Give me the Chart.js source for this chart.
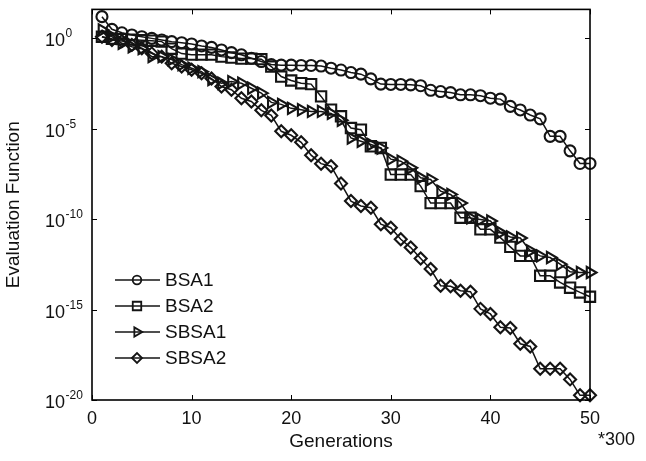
<!DOCTYPE html>
<html><head><meta charset="utf-8">
<script src="https://cdn.jsdelivr.net/npm/chart.js@4/dist/chart.umd.min.js"></script>
<style>html,body{margin:0;padding:0;background:#fff}</style>
</head><body>
<canvas id="c" width="646" height="461"></canvas>
<script>
// ---- data ----
const generations = [1,2,3,4,5,6,7,8,9,10,11,12,13,14,15,16,17,18,19,20,21,22,23,24,25,26,27,28,29,30,31,32,33,34,35,36,37,38,39,40,41,42,43,44,45,46,47,48,49,50];
const xTickValues = [0,10,20,30,40,50];
const yTickExponents = [0,-5,-10,-15,-20];
const seriesNames = ['BSA1','BSA2','SBSA1','SBSA2'];
// log10 of evaluation function
const bsa1Log = [1.20,0.50,0.31,0.19,0.09,0.00,-0.09,-0.18,-0.24,-0.31,-0.42,-0.50,-0.64,-0.79,-0.91,-1.10,-1.28,-1.45,-1.48,-1.48,-1.50,-1.50,-1.53,-1.65,-1.75,-1.89,-1.98,-2.24,-2.53,-2.55,-2.55,-2.57,-2.62,-2.87,-2.94,-3.00,-3.12,-3.12,-3.17,-3.31,-3.36,-3.76,-3.96,-4.24,-4.45,-5.42,-5.42,-6.22,-6.92,-6.92];
const bsa2Log = [0.09,-0.02,-0.04,-0.07,-0.10,-0.13,-0.18,-0.57,-0.84,-0.90,-0.90,-0.90,-1.01,-1.06,-1.12,-1.12,-1.15,-1.56,-2.11,-2.33,-2.48,-2.53,-3.21,-3.94,-4.31,-4.96,-5.05,-5.97,-6.06,-7.53,-7.53,-7.53,-8.17,-9.11,-9.11,-9.11,-9.92,-9.92,-10.56,-10.56,-11.02,-11.53,-12.03,-12.03,-13.13,-13.13,-13.50,-13.79,-14.05,-14.29];
const sbsa1Log = [0.46,0.10,-0.27,-0.46,-0.57,-1.01,-1.01,-1.17,-1.45,-1.65,-1.84,-2.28,-2.48,-2.39,-2.48,-2.76,-3.03,-3.54,-3.65,-3.87,-3.95,-4.04,-4.04,-4.15,-4.53,-5.51,-5.69,-5.87,-6.06,-6.68,-6.79,-7.16,-7.71,-7.80,-8.45,-8.63,-9.11,-9.93,-10.02,-10.10,-10.74,-10.98,-11.04,-11.75,-12.03,-12.12,-12.49,-12.91,-12.95,-12.95];
const sbsa2Log = [0.09,-0.09,-0.14,-0.36,-0.55,-0.83,-1.01,-1.38,-1.56,-1.74,-1.93,-2.22,-2.66,-2.84,-3.31,-3.49,-3.98,-4.26,-5.14,-5.36,-5.75,-6.46,-6.93,-7.07,-8.03,-9.00,-9.27,-9.37,-10.28,-10.47,-11.11,-11.57,-12.17,-12.76,-13.68,-13.71,-13.96,-14.01,-14.96,-15.24,-15.98,-16.02,-16.89,-17.04,-18.27,-18.27,-18.27,-18.86,-19.74,-19.74];

const INK = '#141414';
const FONT = '"Liberation Sans", Arial, Helvetica, sans-serif';

function toPoints(logs){ return logs.map((v,i)=>({x:generations[i], y:Math.pow(10,v)})); }

const styles = [
  {pointStyle:'circle', pointRadius:5.5, rotation:0, legendRadius:4.3},
  {pointStyle:'rect', pointRadius:7.3, rotation:0, legendRadius:6},
  {pointStyle:'triangle', pointRadius:6.5, rotation:90, legendRadius:5.3},
  {pointStyle:'rectRot', pointRadius:6, rotation:0, legendRadius:5}
];
const allLogs = [bsa1Log,bsa2Log,sbsa1Log,sbsa2Log];

const datasets = seriesNames.map((name,k)=>({
  label:name,
  data:toPoints(allLogs[k]),
  borderColor:INK,
  borderWidth:1.5,
  pointStyle:styles[k].pointStyle,
  pointRadius:styles[k].pointRadius,
  pointRotation:styles[k].rotation,
  pointBorderColor:INK,
  pointBackgroundColor:'rgba(0,0,0,0)',
  pointBorderWidth:2.1,
  tension:0,
  clip:false
}));

const framePlugin = {
  id:'frame',
  afterDraw(chart){
    const {ctx, chartArea:a, scales:{x, y}} = chart;
    ctx.save();
    ctx.strokeStyle = '#000';
    ctx.lineWidth = 1.6;
    ctx.strokeRect(a.left, a.top, a.right-a.left, a.bottom-a.top);
    ctx.lineWidth = 1;
    const tl = 5;
    ctx.beginPath();
    xTickValues.forEach(v=>{
      const px = Math.round(x.getPixelForValue(v))+0.5;
      ctx.moveTo(px, a.bottom); ctx.lineTo(px, a.bottom-tl);
      ctx.moveTo(px, a.top); ctx.lineTo(px, a.top+tl);
    });
    yTickExponents.forEach(e=>{
      const py = Math.round(y.getPixelForValue(Math.pow(10,e)))+0.5;
      ctx.moveTo(a.left, py); ctx.lineTo(a.left+tl, py);
      ctx.moveTo(a.right, py); ctx.lineTo(a.right-tl, py);
    });
    ctx.stroke();
    // y tick labels 10^e
    ctx.fillStyle = '#111';
    ctx.textAlign = 'left';
    ctx.textBaseline = 'alphabetic';
    yTickExponents.forEach(e=>{
      const py = y.getPixelForValue(Math.pow(10,e));
      ctx.font = '18px ' + FONT;
      const bx = 45;
      ctx.fillText('10', bx, py+8);
      const w = ctx.measureText('10').width;
      ctx.font = '12px ' + FONT;
      ctx.fillText(String(e), bx+w+0.5, py-1);
    });
    // multiplier note
    ctx.font = '18px ' + FONT;
    ctx.fillText('*300', a.right+8, 445);
    // legend
    const lx0 = a.left+23, lx1 = a.left+68, mx = a.left+45;
    const rows = [280,306,332,358];
    seriesNames.forEach((name,k)=>{
      const ry = rows[k];
      ctx.strokeStyle = INK; ctx.lineWidth = 1.5;
      ctx.beginPath(); ctx.moveTo(lx0, ry); ctx.lineTo(lx1, ry); ctx.stroke();
      ctx.lineWidth = 1.8;
      ctx.fillStyle = 'rgba(0,0,0,0)';
      Chart.helpers.drawPoint(ctx, {pointStyle:styles[k].pointStyle, radius:styles[k].legendRadius, rotation:styles[k].rotation, borderWidth:1.8}, mx, ry);
      ctx.fillStyle = '#111';
      ctx.font = '19px ' + FONT;
      ctx.textBaseline = 'middle';
      ctx.fillText(name, a.left+73, ry+1);
    });
    ctx.restore();
  }
};

new Chart(document.getElementById('c'), {
  type:'line',
  data:{datasets},
  options:{
    responsive:false,
    animation:false,
    devicePixelRatio:1,
    layout:{padding:{left:0, right:56, top:7, bottom:0}},
    plugins:{legend:{display:false}, tooltip:{enabled:false}},
    scales:{
      x:{
        type:'linear', min:0, max:50,
        afterFit(s){ s.height = 61; },
        afterBuildTicks(s){ s.ticks = xTickValues.map(v=>({value:v})); },
        grid:{display:false, drawTicks:false},
        border:{display:false},
        ticks:{color:'#111', font:{family:FONT, size:18}, padding:8, maxRotation:0, autoSkip:false},
        title:{display:true, text:'Generations', color:'#111', font:{family:FONT, size:19}, padding:{top:0,bottom:8}}
      },
      y:{
        type:'logarithmic', min:1e-20, max:40,
        afterFit(s){ s.width = 92; },
        grid:{display:false, drawTicks:false},
        border:{display:false},
        ticks:{display:false},
        title:{display:true, text:'Evaluation Function', color:'#111', font:{family:FONT, size:19}, padding:{top:2,bottom:0}}
      }
    }
  },
  plugins:[framePlugin]
});
</script>
</body></html>
